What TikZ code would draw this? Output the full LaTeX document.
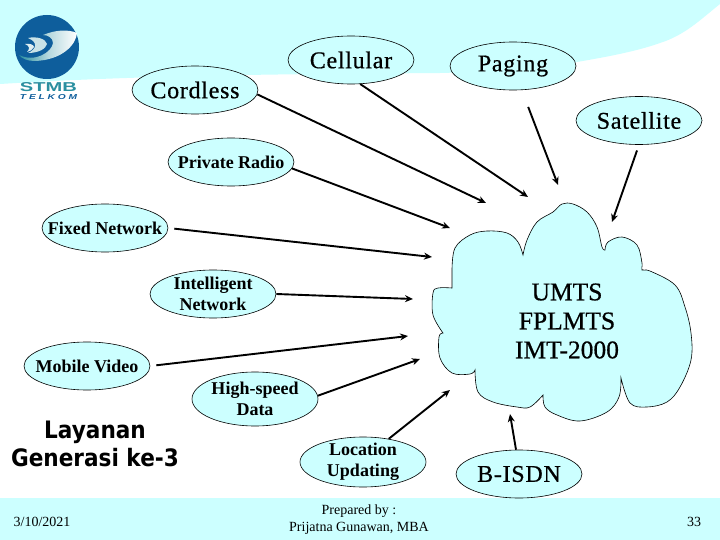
\documentclass[tikz,border=0pt]{standalone}
\usepackage{fontspec}
\setmainfont{Liberation Serif}
\newfontfamily\headfont[FakeStretch=0.9]{DejaVu Sans}
\newfontfamily\logofont{Liberation Sans}
\newfontfamily\heavyfont[FakeBold=0.6,LetterSpace=3]{Liberation Serif}
\newfontfamily\umtsfont[FakeBold=0.6]{Liberation Serif}
\usetikzlibrary{shapes.geometric,arrows.meta}
\definecolor{paleCyan}{HTML}{CCFFFF}
\definecolor{logoBlue}{HTML}{0E5E9C}
\definecolor{logoTeal}{HTML}{2A8FA0}
\tikzset{
  oval/.style={ellipse,draw=black,line width=0.6pt,fill=paleCyan,minimum width=126pt,minimum height=48pt,inner xsep=-16pt,inner ysep=-12pt,align=center,text=black},
  bigoval/.style={oval,font=\heavyfont\fontsize{24}{27}\selectfont},
  smalloval/.style={oval,font=\bfseries\fontsize{18}{21}\selectfont},
  feed/.style={line width=1.9pt,black,-{Stealth[length=8pt,width=7pt]}},
  footer/.style={font=\fontsize{14}{17}\selectfont,align=center,text=black},
  cloudline/.style={draw=black,line width=0.6pt,fill=paleCyan}
}
\begin{document}
\begin{tikzpicture}[x=1pt,y=-1pt]
\useasboundingbox (0,0) rectangle (720,540);
\fill[white] (0,0) rectangle (720,540);
% background bands
\fill[paleCyan] (0,0) -- (720,0) -- (720,4) .. controls (700,20) and (685,35) .. (660,43)
  .. controls (635,52) and (600,58) .. (577,62) .. controls (530,70) and (480,72) .. (440,73)
  .. controls (330,74) and (160,74) .. (0,84) -- cycle;
\fill[paleCyan] (0,498) rectangle (720,540);
% logo
\fill[logoBlue] (47,47) circle (32);
\shade[left color=logoTeal,right color=white,middle color=logoTeal!35!white]
  (19,55) .. controls (35,63) and (52,52) .. (53,43) .. controls (53,38) and (48,35) .. (43,35)
  .. controls (55,30) and (68,29) .. (77,33) .. controls (76,45) and (62,60) .. (35,61)
  .. controls (28,61) and (22,59) .. (19,55) -- cycle;
\fill[white!75!logoTeal] (28,38) .. controls (37,36) and (46,39) .. (47,44) .. controls (46,49) and (38,53) .. (28,53)
  .. controls (37,49) and (38,42) .. (28,38) -- cycle;
\fill[white!85!logoTeal] (25,44) .. controls (30,43) and (34,45) .. (34,47) .. controls (33,50) and (30,51) .. (27,52)
  .. controls (30,49) and (30,46) .. (25,44) -- cycle;
\node[inner sep=0pt,text=logoTeal] (stmb) at (48.5,87.5) {\resizebox{57pt}{9pt}{\logofont\bfseries STMB}};
\node[inner sep=0pt,text=logoBlue] (telkom) at (48.5,97) {\resizebox{57pt}{5pt}{\logofont\bfseries\itshape T E L K O M}};
% cloud
\draw[cloudline]
  plot[smooth,tension=0.6] coordinates {(452,270) (455,248) (470,235) (487,231) (507,233) (518,242) (523,255)}
  -- plot[smooth,tension=0.6] coordinates {(523,255) (527,240) (537,222) (553,212) (562,204) (573,204) (587,212) (597,227) (602,247) (605,250)}
  -- plot[smooth,tension=0.6] coordinates {(605,250) (608,242) (622,237) (637,245) (642,263) (642,270) (650,271) (675,285) (685,307) (691,333) (691,360) (680,387) (667,402) (647,407) (630,403) (621,378)}
  -- plot[smooth,tension=0.6] coordinates {(621,378) (619,397) (607,412) (580,421) (557,415) (545,407) (543,395)}
  -- plot[smooth,tension=0.6] coordinates {(543,395) (530,407) (517,407) (493,402) (478,392) (475,370)}
  -- plot[smooth,tension=0.6] coordinates {(475,370) (470,374) (452,373) (440,358) (439,337) (443,333)}
  -- plot[smooth,tension=0.6] coordinates {(443,333) (433,315) (433,293) (438,288) (452,288)} -- cycle;
\node[font=\umtsfont\fontsize{25.5}{29}\selectfont,align=center,inner sep=0pt] (umts) at (567,321) {UMTS\\FPLMTS\\IMT-2000};
% ovals
\node[bigoval] (cordless) at (195,90) {Cordless};
\node[bigoval] (cellular) at (351,60) {Cellular};
\node[bigoval] (paging) at (513,66) {Paging};
\node[bigoval] (satellite) at (639,120.5) {Satellite};
\node[smalloval] (private) at (231,162) {Private Radio};
\node[smalloval] (fixed) at (105,228) {Fixed Network};
\node[smalloval] (intelligent) at (213,294) {Intelligent\\Network};
\node[smalloval] (mobile) at (87,366) {Mobile Video};
\node[smalloval,minimum height=54pt] (highspeed) at (255,399) {High-speed\\Data};
\node[smalloval,minimum height=50pt] (location) at (363,462) {Location\\Updating};
\node[bigoval] (bisdn) at (519,474) {B-ISDN};
% arrow tips
\coordinate (tipCordless) at (486,203);
\coordinate (tipCellular) at (528,197);
\coordinate (tipPaging) at (558,185);
\coordinate (tipSatellite) at (612,222);
\coordinate (tipPrivate) at (450,228);
\coordinate (tipFixed) at (432,257);
\coordinate (tipIntelligent) at (413,299);
\coordinate (tipMobile) at (408,336);
\coordinate (tipHigh) at (420,359);
\coordinate (tipLocation) at (450,390);
\coordinate (tipBisdn) at (510,414);
% arrows
\draw[feed] (cordless.-4) -- (tipCordless);
\draw[feed] (cellular.-69) -- (tipCellular);
\draw[feed,shorten <=18pt] (paging.-70) -- (tipPaging);
\draw[feed,shorten <=6pt] (satellite.-90) -- (tipSatellite);
\draw[feed] (private.-6) -- (tipPrivate);
\draw[feed,shorten <=6pt] (fixed.east) -- (tipFixed);
\draw[feed] (intelligent.east) -- (tipIntelligent);
\draw[feed,shorten <=6pt] (mobile.east) -- (tipMobile);
\draw[feed] (highspeed.3) -- (tipHigh);
\draw[feed] (location.42) -- (tipLocation);
\draw[feed] (bisdn.97) -- (tipBisdn);
% title and footer
\node[font=\headfont\bfseries\fontsize{24}{28}\selectfont,align=center,inner sep=0pt] (title) at (95,444) {Layanan\\Generasi ke-3};
\node[footer,inner sep=0pt] (date) at (42,522) {3/10/2021};
\node[footer,inner sep=0pt] (prepared) at (359,520) {Prepared by :\\Prijatna Gunawan, MBA};
\node[footer,inner sep=0pt] (page) at (694,522) {33};
\end{tikzpicture}
\end{document}
